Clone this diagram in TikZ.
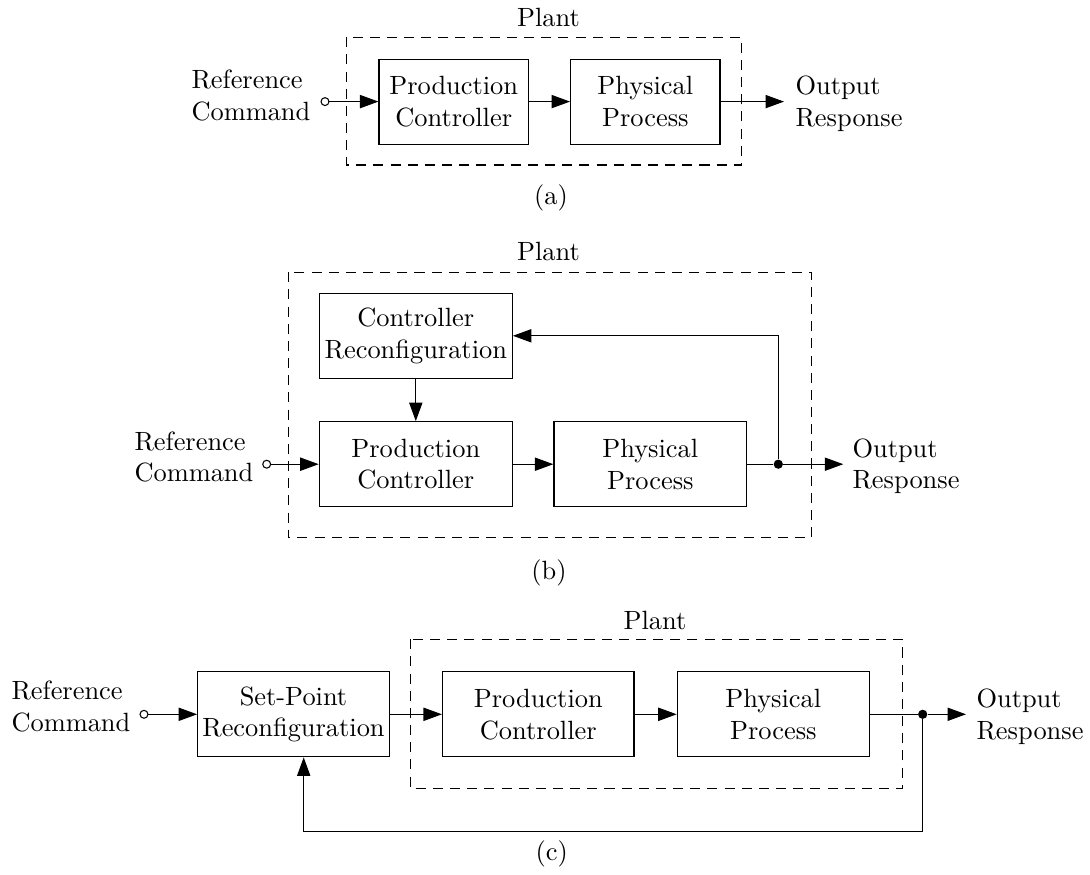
\documentclass[tikz,border=0pt]{standalone}
\usetikzlibrary{arrows.meta,calc}
\newcommand\pxlen{0.3788pt}
\begin{document}
\begin{tikzpicture}[x=0.3788pt,y=-0.3788pt,
  blk/.style={draw, line width=0.45pt, align=center, inner sep=0pt,
              minimum height={85*\pxlen}},
  plant/.style={draw, dash pattern=on 3.8pt off 2.7pt, line width=0.4pt},
  sig/.style={line width=0.45pt, -{Triangle[length=7pt,width=5pt]}},
  wire/.style={line width=0.45pt},
  lbl/.style={inner sep=0pt, align=left, anchor=west},
  captxt/.style={inner sep=0pt},
  src/.style={circle, draw, fill=white, inner sep=0pt, minimum size=3pt, line width=0.4pt},
  tap/.style={circle, fill, inner sep=0pt, minimum size=3.5pt}]
\useasboundingbox (0,0) rectangle (1090,875);

% ---------- (a) open loop ----------
\draw[plant] (346.7,37.3) rectangle (741.7,165);
\node[captxt] (planta) at (548.5,17.5) {Plant};
\node[blk, minimum width={149.3*\pxlen}] (pca) at (453.7,101.6) {Production\\Controller};
\node[blk, minimum width={149.3*\pxlen}] (ppa) at (645.3,101.6) {Physical\\Process};
\node[src] (srca) at (325,101.6) {};
\node[lbl] (refa) at (191,95.5) {Reference\\Command};
\coordinate (outa) at (784,101.6);
\node[lbl] (respa) at (795,104) {Output\\Response};
\draw[sig] (srca) -- (pca);
\draw[sig] (pca) -- (ppa);
\draw[sig] (ppa) -- (outa);
\node[captxt] (capa) at (551,198) {(a)};

% ---------- (b) controller reconfiguration ----------
\draw[plant] (288.3,272.3) rectangle (811.7,537.7);
\node[captxt] (plantb) at (548.5,251) {Plant};
\node[blk, minimum width={193*\pxlen}] (crb) at (415.8,335.8) {Controller\\Reconfiguration};
\node[blk, minimum width={193*\pxlen}] (pcb) at (415.8,464.2) {Production\\Controller};
\node[blk, minimum width={192.7*\pxlen}] (ppb) at (650.3,464.2) {Physical\\Process};
\node[src] (srcb) at (266.7,464.2) {};
\node[lbl] (refb) at (134,457) {Reference\\Command};
\node[tap] (tapb) at (778.3,464.2) {};
\coordinate (outb) at (843.3,464.2);
\node[lbl] (respb) at (852,466.4) {Output\\Response};
\draw[sig] (srcb) -- (pcb);
\draw[sig] (crb) -- (pcb);
\draw[sig] (pcb) -- (ppb);
\draw[wire] (ppb) -- (tapb);
\draw[sig] (tapb) -- (outb);
\draw[sig] (tapb) |- (crb);
\node[captxt] (capb) at (549,573) {(b)};

% ---------- (c) set-point reconfiguration ----------
\draw[plant] (410.7,639.3) rectangle (902.3,788.7);
\node[captxt] (plantc) at (655,620) {Plant};
\node[blk, minimum width={191.6*\pxlen}] (spc) at (293.5,714.3) {Set-Point\\Reconfiguration};
\node[blk, minimum width={191.5*\pxlen}] (pcc) at (538.3,714.3) {Production\\Controller};
\node[blk, minimum width={192*\pxlen}] (ppc) at (773.3,714.3) {Physical\\Process};
\node[src] (srcc) at (144,714.3) {};
\node[lbl] (refc) at (11,706.7) {Reference\\Command};
\node[tap] (tapc) at (922.7,714.3) {};
\coordinate (outc) at (966,714.3);
\coordinate (fbc) at (303.7,831.7);
\node[lbl] (respc) at (976,717) {Output\\Response};
\draw[sig] (srcc) -- (spc);
\draw[sig] (spc) -- (pcc);
\draw[sig] (pcc) -- (ppc);
\draw[wire] (ppc) -- (tapc);
\draw[sig] (tapc) -- (outc);
\draw[sig] (tapc) |- (fbc) -- (fbc |- spc.south);
\node[captxt] (capc) at (551.7,854) {(c)};
\end{tikzpicture}
\end{document}
